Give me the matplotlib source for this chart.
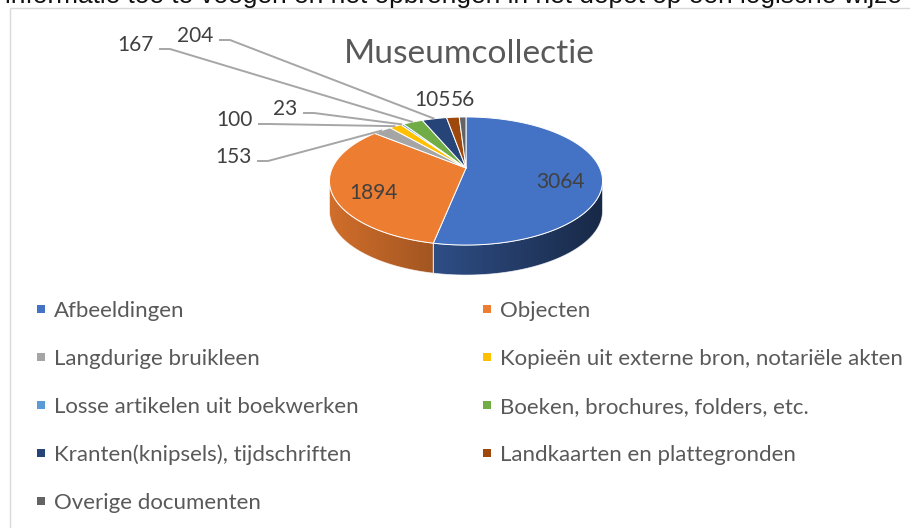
import numpy as np
import matplotlib
matplotlib.use("Agg")
import matplotlib.pyplot as plt
from matplotlib.patches import Polygon, Rectangle
from matplotlib.font_manager import FontProperties
from matplotlib.textpath import TextPath

# ---------------- data ----------------
categories = [
    "Afbeeldingen",
    "Objecten",
    "Langdurige bruikleen",
    "Kopieën uit externe bron, notariële akten",
    "Losse artikelen uit boekwerken",
    "Boeken, brochures, folders, etc.",
    "Kranten(knipsels), tijdschriften",
    "Landkaarten en plattegronden",
    "Overige documenten",
]
values = [3064, 1894, 153, 100, 23, 167, 204, 105, 56]
colors = ["#4472C4", "#ED7D31", "#A5A5A5", "#FFC000", "#5B9BD5",
          "#70AD47", "#264478", "#9E480E", "#636363"]
title = "Museumcollectie"
header_text = "informatie toe te voegen en het opbrengen in het depot op een logische wijze"

# ---------------- layout ----------------
W, H, DPI = 910, 528, 100
TXT = "#595959"
FONT = "Lato"
fig = plt.figure(figsize=(W / DPI, H / DPI), dpi=DPI)
ax = fig.add_axes([0, 0, 1, 1])
ax.set_xlim(0, W)
ax.set_ylim(H, 0)
ax.axis("off")


def fit_size(text, target_px, family=FONT, weight="normal"):
    fp = FontProperties(family=family, weight=weight)
    w = TextPath((0, 0), text, size=10, prop=fp).get_extents().width * DPI / 72
    return 10 * target_px / w


def text_px(text, size, family=FONT, weight="normal"):
    fp = FontProperties(family=family, weight=weight)
    return TextPath((0, 0), text, size=size, prop=fp).get_extents().width * DPI / 72


# header line of the surrounding document (cut off at the top, as in the reference)
hs = fit_size(header_text, 895, family="Liberation Sans")
ax.text(5, 3.5, header_text, fontsize=hs, family="Liberation Sans", color="#111111",
        ha="left", va="baseline")

# chart frame
ax.add_patch(Rectangle((10, 7.5), 920, 540, facecolor="none", edgecolor="#D9D9D9", lw=1.0))

# title
ts = fit_size(title, 246)
ax.text(469, 63, title, fontsize=ts, family=FONT, color=TXT,
        ha="center", va="baseline")

# ---------------- 3D pie ----------------
CX, CY, A0, B0, P, DEPTH = 466, 168, 133.7, 61.4, 0.203, 30
total = float(sum(values))
cum = np.concatenate([[0], np.cumsum(values)]) / total * 360.0  # clockwise from top


def proj(phi, r=1.0):
    t = np.radians(phi)
    u = r * np.sin(t)
    v = r * np.cos(t)
    d = 1 + P * v
    return CX + A0 * u / d, CY - B0 * v / d


side_r = np.degrees(np.arccos(-P))
side_l = 360 - side_r


def shade(x):
    return np.clip(0.88 - 0.0019 * (x - 330), 0.3, 1.0)


gx = np.arange(320, 616)
for i, (s, e) in enumerate(zip(cum[:-1], cum[1:])):
    a, b = max(s, side_r), min(e, side_l)
    if b <= a:
        continue
    ph = np.linspace(a, b, 120)
    xt, yt = proj(ph)
    pts = np.vstack([np.column_stack([xt, yt]),
                     np.column_stack([xt[::-1], yt[::-1] + DEPTH])])
    poly = Polygon(pts, closed=True, facecolor="none", edgecolor="none",
                   transform=ax.transData)
    ax.add_patch(poly)
    base = np.array(matplotlib.colors.to_rgb(colors[i]))
    img = (shade(gx)[:, None] * base[None, :])[None, :, :]
    im = ax.imshow(img, extent=(gx[0], gx[-1], 300, 100), aspect="auto",
                   interpolation="bilinear", zorder=1)
    im.set_clip_path(poly)
    ax.add_patch(Polygon(pts, closed=True, facecolor="none", edgecolor="white",
                         lw=0.6, alpha=0.7, zorder=2))

for i, (s, e) in enumerate(zip(cum[:-1], cum[1:])):
    n = max(3, int((e - s) * 2))
    xr, yr = proj(np.linspace(s, e, n))
    pts = np.vstack([[CX, CY], np.column_stack([xr, yr])])
    ax.add_patch(Polygon(pts, closed=True, facecolor=colors[i], edgecolor="white",
                         lw=0.7, zorder=3, joinstyle="round"))

ax.set_xlim(0, W)
ax.set_ylim(H, 0)

# ---------------- data labels ----------------
ls = fit_size("3064", 47)
mid = (cum[:-1] + cum[1:]) / 2
for i in (0, 1):
    x, y = proj(mid[i], 0.7)
    ax.text(x, y + 10, str(values[i]), fontsize=ls, family=FONT, color="#404040",
            ha="center", va="center", zorder=5)

# leader-line labels (line start positions)
leader_start = {2: (257, 161), 3: (258, 124), 4: (303, 113), 5: (159, 49), 6: (219, 40)}
for i, (x0, y0) in leader_start.items():
    xe, ye = proj(mid[i])
    ax.plot([x0, x0 + 11, xe], [y0, y0, ye], color="#A6A6A6", lw=1.4,
            solid_capstyle="butt", zorder=4)
    ax.text(x0 - 5.5, y0 - 4, str(values[i]), fontsize=ls, family=FONT, color="#404040",
            ha="right", va="center", zorder=5)

# labels above the rim for the last two slices
x8, y8 = proj(mid[8])
w56 = text_px(str(values[8]), ls)
ax.text(x8, y8 - 17, str(values[8]), fontsize=ls, family=FONT, color="#404040",
        ha="center", va="center", zorder=5)
ax.text(x8 - w56 / 2 - 1, y8 - 17, str(values[7]), fontsize=ls, family=FONT, color="#404040",
        ha="right", va="center", zorder=5)

# ---------------- legend ----------------
gs = fit_size(categories[3], 398)
col_x = [41, 487]
row0, dy = 308.5, 48.1
for i, name in enumerate(categories):
    cx = col_x[i % 2]
    cy = row0 + dy * (i // 2)
    ax.scatter([cx], [cy], marker="s", s=33, color=colors[i], linewidths=0, zorder=5)
    ax.text(cx + 13, cy + 8.5, name, fontsize=gs, family=FONT, color=TXT,
            ha="left", va="baseline")

fig.savefig("out.png", dpi=DPI, facecolor="white")
